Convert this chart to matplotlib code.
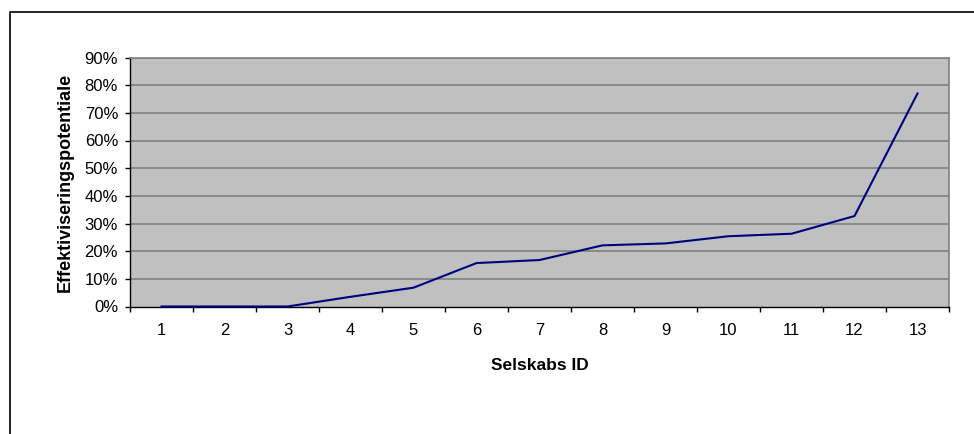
import matplotlib.pyplot as plt
import matplotlib.patches as patches
from matplotlib.ticker import FixedLocator, NullFormatter, FixedFormatter

plt.rcParams['font.family'] = ['Liberation Sans', 'DejaVu Sans']

# Efficiency potential per company
selskabs_id = ['1', '2', '3', '4', '5', '6', '7', '8', '9', '10', '11', '12', '13']
potentiale = [0.0, 0.0, 0.0, 3.5, 6.8, 15.7, 16.8, 22.1, 22.8, 25.4, 26.3, 32.7, 77.0]
y_ticks = [0, 10, 20, 30, 40, 50, 60, 70, 80, 90]
y_ticklabels = [f"{v}%" for v in y_ticks]

fig = plt.figure(figsize=(9.74, 4.34), dpi=100)
ax = fig.add_axes([130 / 974, 1 - 306.5 / 434, 819 / 974, 249 / 434])
ax.set_facecolor('#C0C0C0')

x = list(range(len(selskabs_id)))
ax.set_xlim(-0.5, len(selskabs_id) - 0.5)
ax.set_ylim(0, 90)

for v in y_ticks[1:]:
    ax.axhline(v, color='#808080', lw=1.2, zorder=1)

ax.plot(x, potentiale, color='#000080', lw=1.5, zorder=3, clip_on=False)

# category boundaries get tick marks, centres get labels
ax.xaxis.set_major_locator(FixedLocator([i - 0.5 for i in range(len(selskabs_id) + 1)]))
ax.xaxis.set_major_formatter(NullFormatter())
ax.xaxis.set_minor_locator(FixedLocator(x))
ax.xaxis.set_minor_formatter(FixedFormatter(selskabs_id))
ax.tick_params(axis='x', which='major', length=3.6, width=1, direction='out', color='black')
ax.tick_params(axis='x', which='minor', length=0, pad=12, labelsize=12)

ax.set_yticks(y_ticks)
ax.set_yticklabels(y_ticklabels)
ax.tick_params(axis='y', length=3.6, width=1, direction='out', pad=5, labelsize=12)

for side in ['top', 'right']:
    ax.spines[side].set_color('#808080')
    ax.spines[side].set_linewidth(1.2)
for side in ['left', 'bottom']:
    ax.spines[side].set_color('black')
    ax.spines[side].set_linewidth(1)

ax.set_xlabel('Selskabs ID', fontsize=12.5, fontweight='bold', va='center')
ax.xaxis.set_label_coords(0.5, (306.5 - 365.5) / 249)
ax.set_ylabel('Effektiviseringspotentiale', fontsize=13, fontweight='bold', va='center')
ax.yaxis.set_label_coords((65 - 130) / 819, 0.5)

# chart frame, running off the right and bottom edges
frame = patches.Rectangle((10 / 974, -0.05), 1.05, 1 - 11.5 / 434 + 0.05,
                          transform=fig.transFigure, fill=False,
                          edgecolor='black', lw=1.2, clip_on=False)
fig.patches.append(frame)

fig.savefig('out.png', dpi=100)
